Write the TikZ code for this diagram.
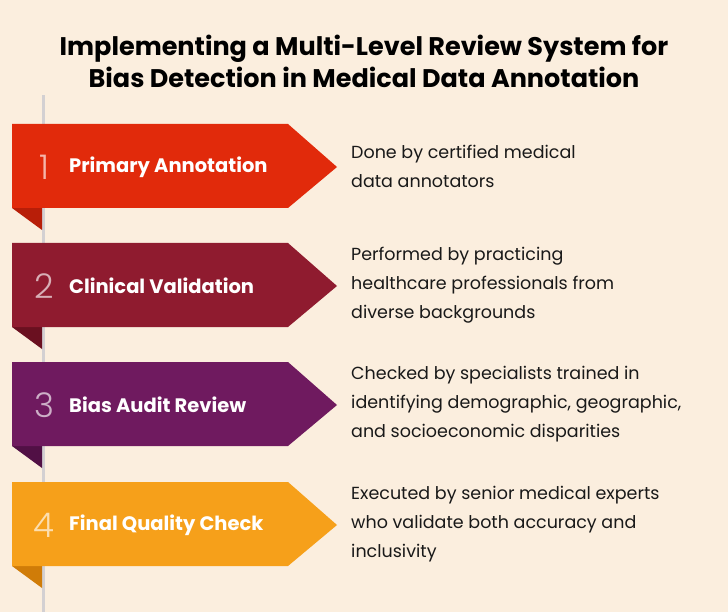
\documentclass[tikz,border=0pt]{standalone}
\usepackage{fontspec}
\setmainfont{Poppins}
\definecolor{bg}{HTML}{FBEEDE}
\definecolor{cA}{HTML}{E12A0B}\definecolor{dA}{HTML}{B81E08}
\definecolor{cB}{HTML}{8F1B2F}\definecolor{dB}{HTML}{6A1020}
\definecolor{cC}{HTML}{6F1A5F}\definecolor{dC}{HTML}{511045}
\definecolor{cD}{HTML}{F6A01A}\definecolor{dD}{HTML}{D07C08}
\definecolor{rail}{HTML}{D3D0D2}
\tikzset{
 lbl/.style={anchor=west,inner sep=0pt,text=white,font=\fontsize{19.5}{22}\selectfont\bfseries},
 num/.style={anchor=center,font=\fontsize{34}{34}\selectfont\fontspec{Poppins Light},text=white!65!#1},
 desc/.style={anchor=west,inner sep=0pt,align=left,font=\fontsize{17.5}{29}\selectfont,text=black!90},
}
\begin{document}
\begin{tikzpicture}[x=1pt,y=-1pt]
\fill[bg] (0,0) rectangle (728,612);
\useasboundingbox (0,0) rectangle (728,612);
\node[align=center,font=\fontsize{25.5}{32}\selectfont\bfseries] (title) at (364,61) {Implementing a Multi-Level Review System for\\Bias Detection in Medical Data Annotation};
\fill[rail] (41.5,95) rectangle (44.5,612);
\foreach \y/\c/\d/\n/\t/\s in {
 124/cA/dA/1/Primary Annotation/{Done by certified medical\\data annotators},
 243/cB/dB/2/Clinical Validation/{Performed by practicing\\healthcare professionals from\\diverse backgrounds},
 362/cC/dC/3/Bias Audit Review/{Checked by specialists trained in\\identifying demographic, geographic,\\and socioeconomic disparities},
 482/cD/dD/4/Final Quality Check/{Executed by senior medical experts\\who validate both accuracy and\\inclusivity}}{
 \fill[\d] (12,\y+84) -- (42,\y+84) -- (42,\y+106) -- cycle;
 \fill[\c] (12,\y) -- (288,\y) -- (337,\y+43) -- (288,\y+84) -- (12,\y+84) -- cycle;
 \node[num=\c] (n\n) at (44,\y+43) {\n};
 \node[lbl] (l\n) at (69,\y+43) {\t};
 \node[desc] (d\n) at (351,\y+42) {\s};
}
\end{tikzpicture}
\end{document}
